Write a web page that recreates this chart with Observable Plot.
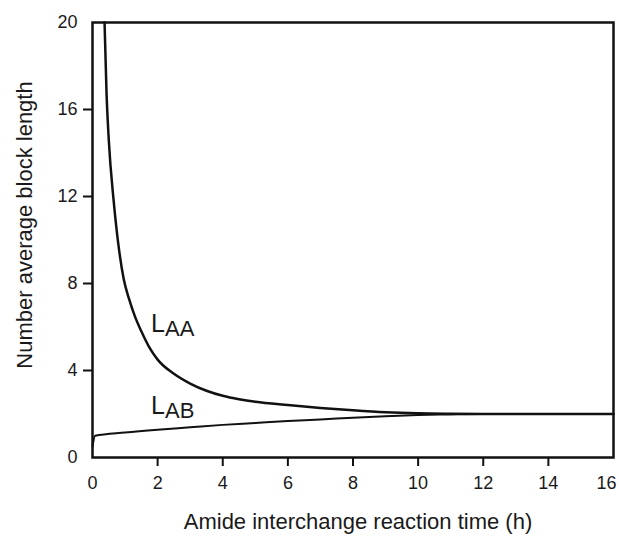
<!DOCTYPE html>
<html>
<head>
<meta charset="utf-8">
<script src="https://cdn.jsdelivr.net/npm/d3@7"></script>
<script src="https://cdn.jsdelivr.net/npm/@observablehq/plot@0.6"></script>
<style>
  html, body { margin: 0; padding: 0; background: #fff; }
</style>
</head>
<body>
<div id="chart"></div>
<script>
// L_AA curve (time in h, number average block length)
const laaTime  = [0.37, 0.43, 0.5, 0.65, 0.82, 0.96, 1.12, 1.3, 1.5, 1.75, 2.0, 2.5, 3.0, 3.5, 4.0, 4.5, 5.0, 6.0, 7.0, 8.0, 9.0, 10.0, 11.0, 12.0, 14.0, 16.0];
const laaValue = [20.0, 16.8, 14.6, 11.8, 9.5, 8.2, 7.3, 6.5, 5.8, 5.05, 4.5, 3.85, 3.4, 3.07, 2.84, 2.68, 2.56, 2.41, 2.28, 2.17, 2.08, 2.03, 2.01, 2.0, 2.0, 2.0];

// L_AB curve
const labTime  = [0, 0.08, 1, 2, 3, 4, 5, 6, 7, 8, 9, 10, 11, 12, 14, 16];
const labValue = [0.5, 1.0, 1.15, 1.28, 1.39, 1.5, 1.59, 1.68, 1.75, 1.83, 1.9, 1.95, 1.98, 2.0, 2.0, 2.0];

// tick values
const xTicks = [0, 2, 4, 6, 8, 10, 12, 14, 16];
const yTicks = [0, 4, 8, 12, 16, 20];

// titles
const xTitle = "Amide interchange reaction time (h)";
const yTitle = "Number average block length";

// curve labels (main letter + subscript), anchored in data coordinates
const labelMain = ["L", "L"];
const labelSub  = ["AA", "AB"];
const labelTime = [1.8, 1.8];
const labelVal  = [6.13, 2.38];

const laa = laaTime.map((t, i) => ({t, v: laaValue[i]}));
const lab = labTime.map((t, i) => ({t, v: labValue[i]}));
const labels = labelMain.map((m, i) => ({m, s: labelSub[i], t: labelTime[i], v: labelVal[i]}));

const font = "'Liberation Sans', Arial, Helvetica, sans-serif";
const ink = "#1a1a1a";

const chart = Plot.plot({
  width: 619,
  height: 539,
  marginLeft: 92,
  marginRight: 6,
  marginTop: 22,
  marginBottom: 82,
  style: {fontFamily: font, fontSize: "18px", color: ink, background: "#fff"},
  x: {domain: [0, 16]},
  y: {domain: [0, 20]},
  marks: [
    // tick marks (interior only)
    Plot.axisX(xTicks.filter(d => d > 0 && d < 16), {tickSize: 9, strokeWidth: 2, stroke: "#111", label: null, text: null}),
    Plot.axisY(yTicks.filter(d => d > 0 && d < 20), {tickSize: 9, strokeWidth: 2, stroke: "#111", label: null, text: null}),
    // tick labels
    Plot.axisX(xTicks.filter(d => d < 16), {tickSize: 0, tickPadding: 19, fontSize: 18, label: null}),
    Plot.axisX(xTicks.filter(d => d === 16), {tickSize: 0, tickPadding: 19, fontSize: 18, label: null, dx: -7}),
    Plot.axisY(yTicks, {tickSize: 0, tickPadding: 15, fontSize: 18, label: null}),
    // axis titles
    Plot.text([xTitle], {frameAnchor: "bottom", textAnchor: "middle", lineAnchor: "middle", dx: 5, dy: 64, fontSize: 22, fill: ink}),
    Plot.text([yTitle], {frameAnchor: "left", textAnchor: "middle", lineAnchor: "middle", rotate: -90, dx: -68, dy: -15, fontSize: 22, fill: ink}),
    Plot.frame({stroke: "#111", strokeWidth: 2.5}),
    Plot.line(lab, {x: "t", y: "v", stroke: "#111", strokeWidth: 2, curve: "monotone-x"}),
    Plot.line(laa, {x: "t", y: "v", stroke: "#111", strokeWidth: 2.5, curve: "monotone-x"}),
    Plot.text(labels, {x: "t", y: "v", text: "m", textAnchor: "start", fontSize: 25, fill: ink}),
    Plot.text(labels, {x: "t", y: "v", text: "s", textAnchor: "start", fontSize: 22, dx: 14, dy: 5, fill: ink})
  ]
});
document.getElementById("chart").appendChild(chart);
</script>
</body>
</html>
